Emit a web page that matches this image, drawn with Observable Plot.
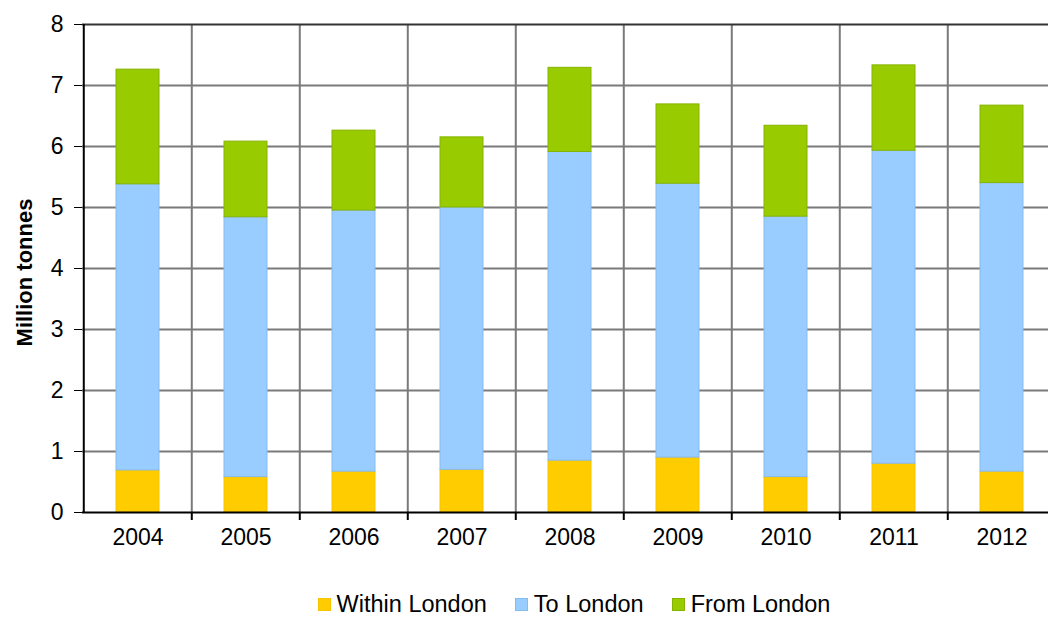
<!DOCTYPE html>
<html>
<head>
<meta charset="utf-8">
<script src="https://cdn.jsdelivr.net/npm/d3@7"></script>
<script src="https://cdn.jsdelivr.net/npm/@observablehq/plot@0.6"></script>
<style>
  html, body { margin: 0; padding: 0; background: #fff; overflow: hidden; width: 1048px; height: 617px; }
  #chart { position: relative; width: 1048px; }
  #chart svg { overflow: visible; }
  #legend { position: absolute; top: 591px; left: 0; width: 1148px; display: flex; justify-content: center; gap: 28px;
    font-family: "Liberation Sans", Arial, sans-serif; font-size: 23.5px; color: #000; }
  #legend .item { display: flex; align-items: center; gap: 6px; }
  #legend .sw { width: 13px; height: 13px; display: inline-block; }
</style>
</head>
<body>
<div id="chart"></div>
<div id="legend"></div>
<script>
const years = ["2004","2005","2006","2007","2008","2009","2010","2011","2012"];
const withinLondon = [0.69, 0.58, 0.67, 0.70, 0.85, 0.90, 0.58, 0.80, 0.67];
const toLondon     = [4.69, 4.26, 4.28, 4.30, 5.06, 4.49, 4.27, 5.13, 4.73];
const fromLondon   = [1.88, 1.24, 1.31, 1.15, 1.38, 1.30, 1.49, 1.40, 1.27];
const seriesNames  = ["Within London", "To London", "From London"];
const seriesColors = ["#FFCC00", "#99CCFF", "#99CC00"];
const seriesStrokes = ["#F7C400", "#86BBEE", "#86B300"];
const yTicks = [0, 1, 2, 3, 4, 5, 6, 7, 8];
const gridValues = [1, 2, 3, 4, 5, 6, 7];

const seriesData = [withinLondon, toLondon, fromLondon];
const table = [];
seriesNames.forEach((s, si) => years.forEach((yr, i) => table.push({year: yr, series: s, value: seriesData[si][i]})));

const xRange = [82, 1058];
const step = (xRange[1] - xRange[0]) / years.length;
const font = '"Liberation Sans", Arial, sans-serif';

const plot = Plot.plot({
  width: 1048,
  height: 560,
  marginTop: 24,
  marginBottom: 48,
  marginLeft: 82,
  marginRight: 0,
  style: {fontFamily: font, fontSize: "23px", color: "#000", background: "transparent", overflow: "visible"},
  x: {type: "band", domain: years, range: xRange, paddingInner: 0.6, paddingOuter: 0.3, align: 0.5,
      tickSize: 0, tickPadding: 16, label: null},
  y: {domain: [0, 8], ticks: yTicks, tickSize: 8, tickPadding: 11, tickFormat: d => String(d), label: null},
  color: {domain: seriesNames, range: seriesColors},
  marks: [
    Plot.ruleY(gridValues, {stroke: "#7a7a7a", strokeWidth: 2}),
    Plot.ruleX(years.slice(1), {x: d => d, dx: -step / 2, y1: 8, y2: 0, stroke: "#7a7a7a", strokeWidth: 2}),
    Plot.barY(table, Plot.stackY({x: "year", y: "value", fill: "series", order: seriesNames,
      stroke: d => seriesStrokes[seriesNames.indexOf(d.series)], strokeWidth: 1})),
    Plot.ruleY([8], {stroke: "#333", strokeWidth: 2}),
    Plot.ruleY([0], {stroke: "#000", strokeWidth: 2}),
    Plot.ruleX([years[0]], {x: d => d, dx: -step / 2, y1: 8, y2: 0, stroke: "#000", strokeWidth: 2}),
    Plot.ruleX(years.slice(1), {x: d => d, dx: -step / 2, y1: 0, y2: 0, insetBottom: -8, stroke: "#000", strokeWidth: 2}),
    Plot.text(["Million tonnes"], {frameAnchor: "left", textAnchor: "middle", rotate: -90, dx: -58, dy: 4,
      fontWeight: "bold", fontSize: 22, fill: "#000"})
  ]
});
document.getElementById("chart").appendChild(plot);

const legend = document.getElementById("legend");
seriesNames.forEach((s, i) => {
  const item = document.createElement("div");
  item.className = "item";
  const sw = document.createElement("span");
  sw.className = "sw";
  sw.style.background = seriesColors[i];
  sw.style.border = "1px solid " + seriesStrokes[i];
  sw.style.boxSizing = "border-box";
  const t = document.createElement("span");
  t.textContent = s;
  item.appendChild(sw);
  item.appendChild(t);
  legend.appendChild(item);
});
</script>
</body>
</html>
